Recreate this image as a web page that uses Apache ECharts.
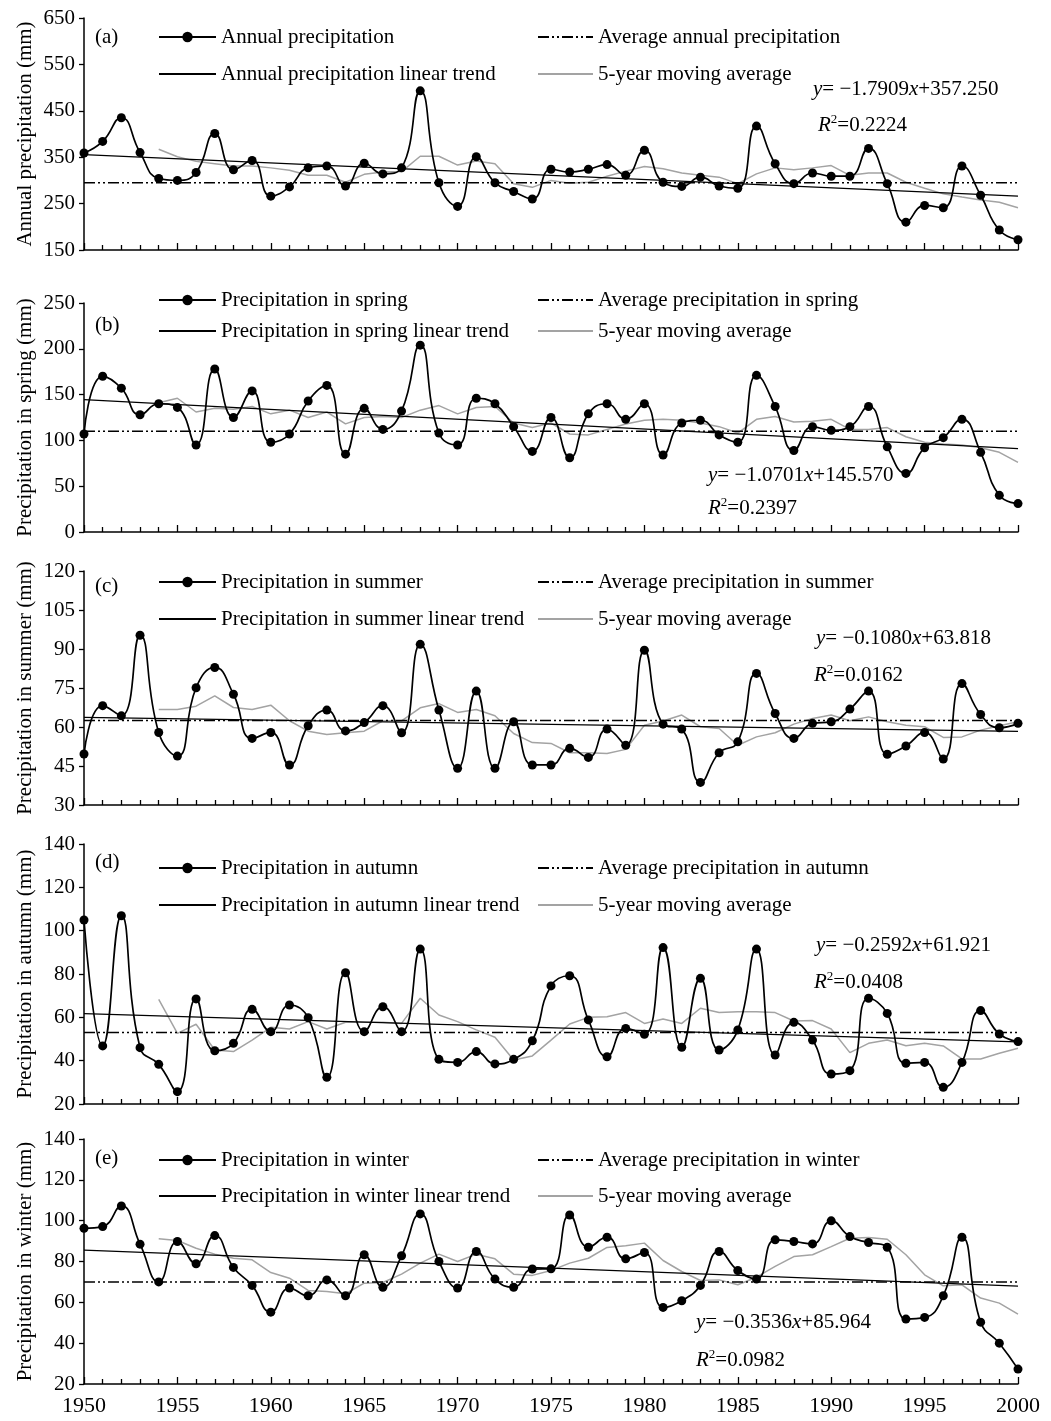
<!DOCTYPE html>
<html>
<head>
<meta charset="utf-8">
<script src="https://cdn.jsdelivr.net/npm/echarts@6/dist/echarts.min.js"></script>
<style>
  html, body { margin: 0; padding: 0; background: #fff; }
  #main { width: 1051px; height: 1421px; }
</style>
</head>
<body>
<div id="main"></div>
<script>
// years on the x axis
var years = [1950, 1951, 1952, 1953, 1954, 1955, 1956, 1957, 1958, 1959,
  1960, 1961, 1962, 1963, 1964, 1965, 1966, 1967, 1968, 1969,
  1970, 1971, 1972, 1973, 1974, 1975, 1976, 1977, 1978, 1979,
  1980, 1981, 1982, 1983, 1984, 1985, 1986, 1987, 1988, 1989,
  1990, 1991, 1992, 1993, 1994, 1995, 1996, 1997, 1998, 1999, 2000];
var maYears = years.slice(4); // moving average starts in 1954

// (a) annual
var annual = [359, 384, 435, 360, 304, 300, 317, 401, 323, 343,
  266, 286, 327, 331, 288, 337, 314, 327, 493, 295,
  244, 351, 295, 276, 260, 324, 318, 324, 334, 311,
  365, 296, 287, 307, 288, 283, 417, 336, 293, 316,
  309, 309, 369, 293, 210, 246, 241, 331, 268, 193, 172];
var annualMA = [367, 351, 341, 336, 331, 331,
  327, 322, 311, 311, 296, 313, 318, 319, 352, 352,
  333, 342, 336, 293, 285, 300, 294, 296, 309, 320,
  330, 325, 316, 311, 307, 293, 314, 327, 323, 327,
  332, 311, 316, 316, 296, 283, 271, 264, 258, 253, 241];
var annualAvg = 295;
var annualTrend = [355.5, 265.9];
var annualTicks = [150, 250, 350, 450, 550, 650];

// (b) spring
var spring = [107, 170, 157, 128, 140, 136, 95, 178, 125, 154,
  98, 107, 143, 160, 85, 135, 112, 132, 204, 108,
  95, 146, 140, 115, 88, 125, 81, 129, 140, 123,
  140, 84, 119, 122, 106, 98, 171, 137, 89, 115,
  111, 115, 137, 93, 64, 92, 103, 123, 87, 40, 31];
var springMA = [141, 146, 131, 135, 134, 137,
  129, 133, 125, 131, 118, 125, 126, 125, 133, 138,
  129, 136, 137, 119, 114, 119, 107, 106, 112, 118,
  122, 123, 122, 119, 115, 108, 123, 126, 120, 121,
  123, 112, 112, 114, 104, 98, 96, 95, 92, 87, 76];
var springAvg = 110;
var springTrend = [144.5, 91.0];
var springTicks = [0, 50, 100, 150, 200, 250];

// (c) summer
var summer = [49.6, 68.2, 64.3, 95.3, 57.9, 48.8, 75.1, 82.9, 72.6, 55.6,
  57.9, 45.4, 60.5, 66.5, 58.5, 61.7, 68.2, 57.8, 91.8, 66.5,
  44.1, 73.8, 44.1, 62.0, 45.4, 45.4, 51.8, 48.3, 59.2, 53.0,
  89.5, 61.1, 59.2, 38.7, 50.1, 54.3, 80.6, 65.2, 55.6, 61.4,
  62.0, 66.9, 73.8, 49.5, 52.7, 57.9, 47.7, 76.7, 64.8, 59.7, 61.4];
var summerMA = [66.7, 66.7, 68.0, 72.0, 67.5, 66.7,
  68.4, 62.4, 58.4, 57.1, 57.8, 58.4, 62.4, 62.4, 67.4, 69.0,
  65.6, 66.7, 64.3, 57.5, 54.0, 53.7, 50.1, 50.1, 49.8, 51.4,
  60.7, 62.3, 64.6, 60.1, 59.4, 53.0, 56.2, 57.8, 61.1, 63.3,
  64.6, 62.4, 63.9, 62.0, 60.7, 60.1, 56.0, 56.2, 58.8, 60.5, 62.0];
var summerAvg = 62.5;
var summerTrend = [63.7, 58.3];
var summerTicks = [30, 45, 60, 75, 90, 105, 120];

// (d) autumn
var autumn = [104.9, 46.8, 106.9, 46.0, 38.3, 25.7, 68.5, 44.6, 48.0, 63.7,
  53.4, 65.7, 59.8, 32.3, 80.6, 53.4, 64.9, 53.4, 91.5, 40.6,
  39.2, 44.2, 38.5, 40.6, 49.2, 74.5, 79.2, 58.8, 41.8, 54.9,
  52.2, 92.2, 46.2, 78.0, 44.9, 54.2, 91.5, 42.6, 57.7, 49.5,
  33.8, 35.4, 68.8, 61.8, 38.8, 39.2, 27.7, 39.2, 63.1, 52.3, 48.8];
var autumnMA = [68.3, 52.6, 56.8, 44.9, 44.2, 49.5,
  55.4, 54.6, 58.0, 54.6, 57.7, 57.7, 57.7, 57.2, 68.8, 61.1,
  58.0, 54.2, 50.8, 40.3, 42.2, 49.5, 56.9, 60.0, 60.3, 62.2,
  57.2, 59.2, 57.2, 64.2, 62.2, 62.6, 62.6, 62.2, 58.3, 58.5,
  54.6, 43.7, 48.0, 49.5, 46.9, 48.0, 46.8, 40.8, 40.8, 43.4, 45.7];
var autumnAvg = 53;
var autumnTrend = [61.7, 48.7];
var autumnTicks = [20, 40, 60, 80, 100, 120, 140];

// (e) winter
var winter = [96.3, 97.1, 107.2, 88.5, 70.0, 89.8, 78.9, 92.7, 77.1, 68.3,
  55.2, 67.0, 63.2, 71.0, 63.2, 83.3, 67.4, 82.8, 103.3, 80.0,
  67.0, 84.9, 71.4, 67.4, 76.3, 76.4, 102.8, 87.0, 91.9, 81.3,
  84.4, 57.5, 60.8, 68.3, 84.9, 75.6, 71.4, 90.6, 89.8, 88.6,
  99.9, 92.2, 89.3, 87.0, 51.8, 52.6, 63.2, 91.9, 50.3, 40.0, 27.3];
var winterMA = [91.1, 90.3, 86.5, 83.6, 81.6, 80.8,
  74.6, 71.8, 65.8, 65.3, 64.2, 69.4, 69.7, 73.8, 79.2, 83.6,
  80.0, 83.6, 81.3, 73.8, 73.2, 75.6, 79.2, 81.6, 86.9, 87.7,
  89.0, 80.5, 75.1, 70.7, 71.0, 68.6, 72.3, 77.6, 82.4, 83.3,
  87.3, 91.4, 91.7, 90.9, 83.3, 73.5, 68.1, 68.6, 62.1, 59.6, 54.2];
var winterAvg = 70;
var winterTrend = [85.6, 67.9];
var winterTicks = [20, 40, 60, 80, 100, 120, 140];

var FONT = '"Liberation Serif", "Times New Roman", serif';
var FS = 21;

var panels = [
  { tag: '(a)', yName: 'Annual precipitation (mm)',
    names: ['Annual precipitation', 'Average annual precipitation',
            'Annual precipitation linear trend', '5-year moving average'],
    data: annual, ma: annualMA, avg: annualAvg, trend: annualTrend, ticks: annualTicks,
    slope: '−1.7909', icpt: '357.250', r2: '0.2224',
    top: 18, height: 232, row1: 37, row2: 74, tagY: 37, eq: [813, 89], rr: [818, 125] },
  { tag: '(b)', yName: 'Precipitation in spring (mm)',
    names: ['Precipitation in spring', 'Average precipitation in spring',
            'Precipitation in spring linear trend', '5-year moving average'],
    data: spring, ma: springMA, avg: springAvg, trend: springTrend, ticks: springTicks,
    slope: '−1.0701', icpt: '145.570', r2: '0.2397',
    top: 303, height: 229, row1: 300, row2: 331, tagY: 325, eq: [708, 475], rr: [708, 508] },
  { tag: '(c)', yName: 'Precipitation in summer (mm)',
    names: ['Precipitation in summer', 'Average precipitation in summer',
            'Precipitation in summer linear trend', '5-year moving average'],
    data: summer, ma: summerMA, avg: summerAvg, trend: summerTrend, ticks: summerTicks,
    slope: '−0.1080', icpt: '63.818', r2: '0.0162',
    top: 571, height: 234, row1: 582, row2: 619, tagY: 586, eq: [816, 638], rr: [814, 675] },
  { tag: '(d)', yName: 'Precipitation in autumn (mm)',
    names: ['Precipitation in autumn', 'Average precipitation in autumn',
            'Precipitation in autumn linear trend', '5-year moving average'],
    data: autumn, ma: autumnMA, avg: autumnAvg, trend: autumnTrend, ticks: autumnTicks,
    slope: '−0.2592', icpt: '61.921', r2: '0.0408',
    top: 844, height: 260, row1: 868, row2: 905, tagY: 862, eq: [816, 945], rr: [814, 982] },
  { tag: '(e)', yName: 'Precipitation in winter (mm)',
    names: ['Precipitation in winter', 'Average precipitation in winter',
            'Precipitation in winter linear trend', '5-year moving average'],
    data: winter, ma: winterMA, avg: winterAvg, trend: winterTrend, ticks: winterTicks,
    slope: '−0.3536', icpt: '85.964', r2: '0.0982',
    top: 1139, height: 245, row1: 1160, row2: 1196, tagY: 1158, eq: [696, 1322], rr: [696, 1360] }
];

function zip(xs, ys) {
  return ys.map(function (v, k) { return [xs[k], v]; });
}

var grids = [], xAxes = [], yAxes = [], series = [], legends = [], graphics = [];
var legendText = { fontFamily: FONT, fontSize: FS, color: '#000', lineHeight: FS };
var hidden = { opacity: 0 };

panels.forEach(function (p, i) {
  grids.push({ left: 84, width: 934, top: p.top, height: p.height,
    containLabel: false, outerBoundsMode: 'none' });

  xAxes.push({
    type: 'value', gridIndex: i, min: 1950, max: 2000, interval: 5,
    axisLine: { lineStyle: { color: '#000', width: 1.5 } },
    axisTick: { inside: true, length: 7, lineStyle: { color: '#000', width: 1.3 } },
    minorTick: { show: true, splitNumber: 5, length: 5, lineStyle: { color: '#000', width: 1.3 } },
    splitLine: { show: false },
    minorSplitLine: { show: false },
    axisLabel: { show: i === panels.length - 1, margin: 11, color: '#000',
      fontFamily: FONT, fontSize: 22, formatter: function (v) { return String(v); } }
  });

  yAxes.push({
    type: 'value', gridIndex: i,
    min: p.ticks[0], max: p.ticks[p.ticks.length - 1], interval: p.ticks[1] - p.ticks[0],
    name: p.yName, nameLocation: 'middle', nameGap: 48, nameMoveOverlap: false,
    nameTextStyle: { fontFamily: FONT, fontSize: FS, color: '#000' },
    axisLine: { show: true, lineStyle: { color: '#000', width: 1.5 } },
    axisTick: { show: true, length: 5, lineStyle: { color: '#000', width: 1.3 } },
    splitLine: { show: false },
    axisLabel: { margin: 9, color: '#000', fontFamily: FONT, fontSize: FS }
  });

  // observed values
  series.push({
    name: p.names[0], type: 'line', xAxisIndex: i, yAxisIndex: i,
    data: zip(years, p.data), smooth: 0.5,
    symbol: 'circle', symbolSize: 9, showAllSymbol: true,
    lineStyle: { color: '#000', width: 1.7 }, itemStyle: { color: '#000' },
    z: 5, silent: true
  });
  // average
  series.push({
    name: p.names[1], type: 'line', xAxisIndex: i, yAxisIndex: i,
    data: [[1950, p.avg], [2000, p.avg]], symbol: 'none',
    lineStyle: { color: '#000', width: 1.5, type: [11, 3, 2, 3, 2, 3] },
    itemStyle: { color: '#000' }, z: 3, silent: true
  });
  // linear trend
  series.push({
    name: p.names[2], type: 'line', xAxisIndex: i, yAxisIndex: i,
    data: [[1950, p.trend[0]], [2000, p.trend[1]]], symbol: 'none',
    lineStyle: { color: '#000', width: 1.3 }, itemStyle: { color: '#000' },
    z: 4, silent: true
  });
  // 5-year moving average
  series.push({
    name: p.names[3], type: 'line', xAxisIndex: i, yAxisIndex: i,
    data: zip(maYears, p.ma), symbol: 'none',
    lineStyle: { color: '#a3a3a3', width: 1.5 }, itemStyle: { color: '#a3a3a3' },
    z: 2, silent: true
  });

  var gap = p.row2 - p.row1 - FS;
  legends.push({
    orient: 'vertical', left: 158, top: p.row1 - FS / 2, padding: 0, itemGap: gap,
    itemWidth: 57, itemHeight: 13, selectedMode: false, textStyle: legendText,
    data: [p.names[0], { name: p.names[2], itemStyle: hidden }]
  });
  legends.push({
    orient: 'vertical', left: 537, top: p.row1 - FS / 2, padding: 0, itemGap: gap,
    itemWidth: 55, itemHeight: 13, selectedMode: false, textStyle: legendText,
    data: [{ name: p.names[1], itemStyle: hidden }, { name: p.names[3], itemStyle: hidden }]
  });

  var rich = {
    i: { fontFamily: FONT, fontSize: FS, fontStyle: 'italic', fill: '#000' },
    s: { fontFamily: FONT, fontSize: 13, fill: '#000', verticalAlign: 'top', lineHeight: 23 }
  };
  graphics.push({
    type: 'text', x: 95, y: p.tagY, silent: true,
    style: { text: p.tag, fontFamily: FONT, fontSize: FS, fill: '#000', verticalAlign: 'middle' }
  });
  graphics.push({
    type: 'text', x: p.eq[0], y: p.eq[1], silent: true,
    style: { text: '{i|y}= ' + p.slope + '{i|x}+' + p.icpt, rich: rich,
      fontFamily: FONT, fontSize: FS, fill: '#000', verticalAlign: 'middle' }
  });
  graphics.push({
    type: 'text', x: p.rr[0], y: p.rr[1], silent: true,
    style: { text: '{i|R}{s|2}=' + p.r2, rich: rich,
      fontFamily: FONT, fontSize: FS, fill: '#000', verticalAlign: 'middle' }
  });
});

var chart = echarts.init(document.getElementById('main'), null, { renderer: 'canvas' });
chart.setOption({
  backgroundColor: '#fff',
  animation: false,
  grid: grids,
  xAxis: xAxes,
  yAxis: yAxes,
  legend: legends,
  series: series,
  graphic: graphics
});
</script>
</body>
</html>
